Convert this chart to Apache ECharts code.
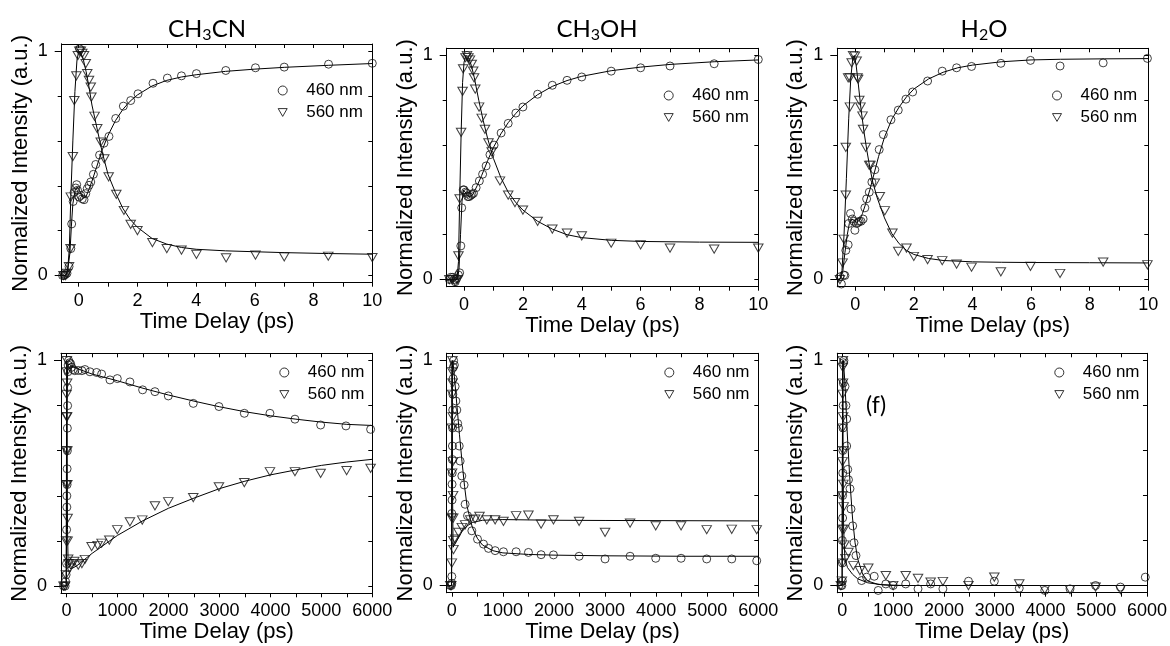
<!DOCTYPE html>
<html><head><meta charset="utf-8">
<script src="https://cdn.jsdelivr.net/npm/echarts@6/dist/echarts.min.js"></script>
<style>html,body{margin:0;padding:0;background:#fff}#c{width:1170px;height:646px}</style>
</head><body><div id="c"></div><script>
// ---------- tick / label arrays ----------
const SHORT_TICKS = [0,1,2,3,4,5,6,7,8,9,10];
const SHORT_LABELS = [0,2,4,6,8,10];
const LONG_TICKS = [0,500,1000,1500,2000,2500,3000,3500,4000,4500,5000,5500,6000];
const LONG_LABELS = [0,1000,2000,3000,4000,5000,6000];
const Y_LABELS = [0,1];
const Y_MINOR = [0.2,0.4,0.6,0.8];
const Y_ALL = [0,0.2,0.4,0.6,0.8,1];
const SERIES_NAMES = ['460 nm','560 nm'];
const TITLES = ['{n|CH}{s|3}{n|CN}','{n|CH}{s|3}{n|OH}','{n|H}{s|2}{n|O}'];
const X_NAME = 'Time Delay (ps)';
const Y_NAME = 'Normalized Intensity (a.u.)';
const PANEL_TAG = '(f)';

// ---------- data: CH3CN short ----------
const ch3cnS_460 = [[-0.55,0],[-0.5,0.0],[-0.45,0.005],[-0.4,0.01],[-0.33,0.04],[-0.27,0.12],[-0.24,0.23],[-0.19,0.33],[-0.16,0.37],[-0.1,0.39],[-0.07,0.405],[-0.04,0.38],[0.03,1.01],[0.01,0.35],[0.07,0.357],[0.12,0.342],[0.18,0.338],[0.24,0.365],[0.29,0.387],[0.35,0.402],[0.41,0.417],[0.5,0.451],[0.58,0.495],[0.71,0.537],[0.86,0.59],[1.03,0.62],[1.26,0.7],[1.52,0.755],[1.77,0.78],[2.02,0.81],[2.53,0.857],[3.02,0.88],[3.5,0.89],[4.01,0.9],[5.01,0.914],[6.02,0.926],[7.0,0.929],[8.51,0.942],[10,0.946]];
const ch3cnS_560 = [[-0.52,0.0],[-0.45,0.0],[-0.4,0.01],[-0.33,0.04],[-0.28,0.12],[-0.27,0.35],[-0.2,0.53],[-0.15,0.78],[-0.08,0.89],[-0.03,0.98],[0.02,1.0],[0.07,1.0],[0.12,0.99],[0.18,0.98],[0.24,0.945],[0.29,0.9],[0.35,0.87],[0.41,0.84],[0.43,0.795],[0.54,0.71],[0.63,0.655],[0.75,0.595],[0.87,0.52],[1.02,0.44],[1.28,0.362],[1.54,0.29],[1.77,0.228],[2.0,0.2],[2.51,0.147],[3.0,0.12],[3.5,0.113],[4.01,0.094],[5.02,0.079],[6.02,0.091],[7.0,0.083],[8.5,0.086],[10,0.08]];
const ch3cnS_fit460 = [[-0.58,0],[-0.45,0.0],[-0.38,0.02],[-0.3,0.1],[-0.25,0.22],[-0.2,0.32],[-0.12,0.38],[-0.05,0.395],[0.02,0.38],[0.1,0.355],[0.18,0.345],[0.26,0.355],[0.35,0.385],[0.45,0.42],[0.6,0.48],[0.8,0.56],[1.0,0.625],[1.25,0.69],[1.5,0.74],[1.75,0.777],[2.0,0.805],[2.5,0.845],[3.0,0.87],[3.5,0.885],[4.0,0.895],[5.0,0.91],[6.0,0.92],[7.0,0.928],[8.5,0.937],[10,0.945]];
const ch3cnS_fit560 = [[-0.58,0],[-0.45,0.0],[-0.38,0.02],[-0.32,0.12],[-0.27,0.35],[-0.2,0.6],[-0.13,0.82],[-0.06,0.96],[0.0,1.0],[0.08,0.99],[0.16,0.96],[0.25,0.91],[0.35,0.84],[0.45,0.76],[0.55,0.7],[0.65,0.64],[0.8,0.55],[1.0,0.45],[1.25,0.37],[1.5,0.3],[1.75,0.25],[2.0,0.215],[2.5,0.165],[3.0,0.14],[3.5,0.125],[4.0,0.117],[5.0,0.11],[6.0,0.106],[7.0,0.102],[8.5,0.098],[10,0.095]];

// ---------- data: CH3OH short ----------
const ch3ohS_460 = [[-0.5,0.0],[-0.45,0.01],[-0.38,0.01],[-0.33,0.0],[-0.3,-0.01],[-0.25,0.005],[-0.19,0.02],[-0.15,0.03],[-0.11,0.15],[-0.08,0.32],[-0.03,0.4],[0.0,0.4],[0.05,0.39],[0.09,0.385],[0.1,1.0],[0.13,0.37],[0.17,0.37],[0.22,0.375],[0.27,0.38],[0.32,0.385],[0.41,0.41],[0.52,0.44],[0.63,0.47],[0.75,0.507],[0.88,0.557],[1.02,0.6],[1.26,0.654],[1.5,0.697],[1.76,0.743],[2.0,0.77],[2.5,0.827],[3.0,0.867],[3.5,0.889],[4.0,0.904],[5.0,0.93],[6.0,0.945],[7.0,0.953],[8.5,0.963],[10,0.982]];
const ch3ohS_560 = [[-0.5,0.0],[-0.4,0.0],[-0.3,-0.01],[-0.22,0.0],[-0.19,0.106],[-0.15,0.36],[-0.1,0.657],[-0.05,0.84],[-0.03,0.94],[0.05,0.99],[0.1,1.0],[0.15,0.99],[0.2,0.98],[0.26,0.96],[0.31,0.93],[0.34,0.9],[0.38,0.85],[0.51,0.77],[0.6,0.72],[0.71,0.67],[0.83,0.61],[0.94,0.57],[1.22,0.44],[1.5,0.377],[1.73,0.343],[2.0,0.31],[2.5,0.26],[3.0,0.225],[3.5,0.207],[4.0,0.195],[5.0,0.162],[6.0,0.155],[7.0,0.14],[8.5,0.136],[10,0.14]];
const ch3ohS_fit460 = [[-0.59,0],[-0.22,0.0],[-0.17,0.05],[-0.12,0.2],[-0.07,0.35],[-0.02,0.4],[0.04,0.395],[0.12,0.375],[0.2,0.37],[0.3,0.38],[0.45,0.42],[0.6,0.465],[0.8,0.53],[1.0,0.59],[1.25,0.65],[1.5,0.7],[1.75,0.74],[2.0,0.775],[2.5,0.825],[3.0,0.862],[3.5,0.888],[4.0,0.907],[5.0,0.932],[6.0,0.948],[7.0,0.96],[8.5,0.972],[10,0.98]];
const ch3ohS_fit560 = [[-0.59,0],[-0.24,0.0],[-0.19,0.08],[-0.15,0.35],[-0.1,0.65],[-0.05,0.88],[0.0,0.97],[0.06,1.0],[0.15,0.99],[0.25,0.955],[0.35,0.9],[0.5,0.8],[0.65,0.71],[0.8,0.63],[1.0,0.54],[1.25,0.455],[1.5,0.39],[1.75,0.345],[2.0,0.31],[2.5,0.26],[3.0,0.225],[3.5,0.2],[4.0,0.187],[5.0,0.175],[6.0,0.17],[8.0,0.167],[10,0.166]];

// ---------- data: H2O short ----------
const h2oS_460 = [[-0.52,0.012],[-0.47,-0.02],[-0.39,0.02],[-0.35,0.018],[-0.32,0.13],[-0.24,0.155],[-0.22,0.25],[-0.16,0.295],[-0.1,0.27],[-0.05,0.26],[-0.01,0.22],[0.05,0.25],[0.1,0.255],[0.14,0.26],[0.2,0.26],[0.27,0.27],[0.33,0.32],[0.39,0.36],[0.48,0.39],[0.57,0.435],[0.67,0.49],[0.82,0.58],[0.96,0.647],[1.22,0.713],[1.47,0.756],[1.73,0.805],[1.96,0.837],[2.47,0.886],[2.97,0.93],[3.46,0.945],[3.97,0.951],[4.97,0.965],[5.98,0.978],[6.99,0.953],[8.46,0.967],[9.97,0.987]];
const h2oS_560 = [[-0.52,0.0],[-0.43,0.074],[-0.39,0.18],[-0.32,0.377],[-0.32,0.59],[-0.24,0.9],[-0.18,0.77],[-0.18,0.9],[-0.12,0.967],[-0.07,1.0],[-0.01,0.997],[0.05,0.975],[0.08,0.9],[0.1,0.894],[0.14,0.8],[0.18,0.77],[0.25,0.73],[0.27,0.67],[0.36,0.59],[0.48,0.51],[0.52,0.51],[0.67,0.43],[0.84,0.37],[1.01,0.307],[1.27,0.207],[1.47,0.126],[1.75,0.14],[2.0,0.103],[2.47,0.089],[2.97,0.084],[3.46,0.069],[3.97,0.055],[4.97,0.034],[5.98,0.059],[6.99,0.027],[8.46,0.078],[9.97,0.066]];
const h2oS_fit460 = [[-0.61,0],[-0.5,0.005],[-0.42,0.04],[-0.35,0.12],[-0.27,0.2],[-0.2,0.25],[-0.12,0.27],[-0.04,0.265],[0.05,0.255],[0.15,0.265],[0.25,0.295],[0.35,0.335],[0.5,0.4],[0.65,0.475],[0.8,0.55],[1.0,0.635],[1.25,0.715],[1.5,0.77],[1.75,0.815],[2.0,0.85],[2.5,0.895],[3.0,0.925],[3.5,0.945],[4.0,0.957],[5.0,0.972],[6.0,0.98],[7.0,0.983],[8.5,0.985],[10,0.986]];
const h2oS_fit560 = [[-0.61,0],[-0.52,0.0],[-0.45,0.04],[-0.38,0.2],[-0.3,0.45],[-0.22,0.72],[-0.15,0.9],[-0.08,0.99],[-0.03,1.0],[0.03,0.96],[0.1,0.88],[0.2,0.76],[0.3,0.66],[0.4,0.575],[0.5,0.5],[0.6,0.435],[0.75,0.365],[1.0,0.275],[1.25,0.205],[1.5,0.16],[1.75,0.13],[2.0,0.112],[2.5,0.094],[3.0,0.085],[4.0,0.079],[5.0,0.077],[6.0,0.076],[8.0,0.075],[10,0.074]];

// ---------- data: CH3CN long ----------
const ch3cnL_460 = [[-60,0.0],[-30,0.0],[-20,0.02],[-10,0.05],[0,0.1],[0,0.25],[5,0.35],[5,0.4],[10,0.45],[10,0.52],[15,0.6],[15,0.7],[20,0.8],[20,0.88],[25,0.95],[30,0.98],[40,1.0],[60,0.99],[80,0.985],[100,0.97],[130,0.96],[160,0.955],[229,0.956],[300,0.955],[360,0.96],[458,0.95],[589,0.947],[687,0.94],[851,0.914],[995,0.92],[1243,0.905],[1492,0.87],[1734,0.862],[1996,0.843],[2486,0.81],[2990,0.796],[3488,0.766],[3991,0.766],[4482,0.74],[4986,0.714],[5483,0.71],[5967,0.695]];
const ch3cnL_560 = [[-60,0.0],[-30,0.0],[-15,0.05],[-10,0.2],[-5,0.45],[-5,0.6],[0,0.75],[0,0.85],[5,0.95],[5,1.0],[10,0.9],[10,0.75],[15,0.6],[15,0.45],[20,0.3],[20,0.2],[30,0.12],[40,0.1],[60,0.08],[100,0.1],[150,0.11],[229,0.093],[300,0.1],[360,0.118],[491,0.175],[609,0.18],[687,0.19],[838,0.204],[995,0.25],[1243,0.285],[1485,0.293],[1734,0.356],[1996,0.374],[2486,0.392],[2990,0.44],[3488,0.459],[3991,0.507],[4482,0.507],[4986,0.5],[5496,0.512],[5967,0.522]];
const ch3cnL_fit460 = [[-110,0],[-5,0.0],[0,0.3],[8,0.8],[20,0.97],[40,0.985],[100,0.975],[200,0.965],[500,0.94],[1000,0.91],[1500,0.877],[2000,0.847],[2500,0.82],[3000,0.795],[3500,0.773],[4000,0.755],[4500,0.74],[5000,0.727],[5500,0.717],[6000,0.712]];
const ch3cnL_fit560 = [[-110,0],[-10,0.0],[-3,0.5],[3,1.0],[10,0.6],[18,0.25],[30,0.1],[80,0.075],[200,0.09],[500,0.145],[1000,0.225],[1500,0.29],[2000,0.345],[2500,0.39],[3000,0.432],[3500,0.465],[4000,0.493],[4500,0.515],[5000,0.535],[5500,0.55],[6000,0.562]];

// ---------- data: CH3OH long ----------
const ch3ohL_460 = [[-30,0.0],[-10,0.0],[0,0.01],[0,0.04],[0,0.32],[5,0.38],[5,0.45],[8,0.5],[10,0.56],[12,0.62],[15,0.7],[18,0.78],[20,0.85],[25,0.92],[30,0.97],[35,1.0],[50,0.98],[65,0.885],[80,0.82],[98,0.78],[115,0.72],[130,0.7],[145,0.62],[163,0.553],[196,0.487],[241,0.447],[261,0.361],[307,0.31],[392,0.243],[503,0.206],[620,0.184],[718,0.165],[848,0.155],[1011,0.15],[1259,0.15],[1500,0.147],[1748,0.137],[1990,0.136],[2492,0.13],[3000,0.118],[3490,0.13],[3992,0.121],[4488,0.121],[4990,0.118],[5480,0.118],[5969,0.11]];
const ch3ohL_560 = [[-30,0.0],[-10,0.0],[0,0.1],[0,0.3],[5,0.5],[5,0.7],[8,0.85],[10,0.95],[12,1.0],[15,0.9],[18,0.75],[20,0.55],[25,0.4],[28,0.3],[30,0.2],[33,0.16],[65,0.206],[130,0.236],[196,0.258],[261,0.27],[359,0.292],[457,0.295],[542,0.307],[685,0.292],[848,0.292],[1011,0.285],[1259,0.31],[1500,0.313],[1748,0.273],[1990,0.292],[2492,0.285],[3000,0.236],[3490,0.277],[3992,0.265],[4488,0.265],[4990,0.248],[5480,0.25],[5969,0.248]];
const ch3ohL_fit460 = [[-100,0],[-5,0.0],[0,0.5],[8,0.95],[20,1.0],[50,0.93],[100,0.8],[150,0.67],[200,0.55],[250,0.44],[300,0.35],[400,0.26],[500,0.21],[600,0.18],[800,0.155],[1000,0.145],[1500,0.138],[2000,0.135],[3000,0.132],[4500,0.13],[6000,0.13]];
const ch3ohL_fit560 = [[-100,0],[-5,0.0],[0,0.6],[6,1.0],[15,0.4],[25,0.17],[50,0.18],[100,0.2],[200,0.24],[300,0.265],[400,0.28],[600,0.29],[1000,0.293],[2000,0.29],[3000,0.289],[4500,0.288],[6000,0.287]];

// ---------- data: H2O long ----------
const h2oL_460 = [[-30,0.0],[-10,0.0],[0,0.02],[0,0.1],[0,0.2],[5,0.3],[5,0.4],[8,0.5],[10,0.6],[12,0.7],[15,0.8],[18,0.9],[20,0.99],[30,1.0],[52,0.885],[70,0.8],[85,0.74],[85,0.62],[105,0.516],[120,0.47],[150,0.43],[170,0.34],[203,0.265],[229,0.19],[268,0.133],[379,0.022],[477,0.037],[627,0.041],[706,-0.022],[856,0.007],[1000,0.0],[1248,0.007],[1490,-0.015],[1739,0.007],[1980,-0.015],[2484,0.019],[2993,0.019],[3484,-0.012],[3987,-0.022],[4484,-0.015],[4987,0.0],[5477,-0.007],[5967,0.037]];
const h2oL_560 = [[-30,0.0],[-10,0.02],[0,0.1],[0,0.25],[3,0.4],[3,0.55],[5,0.7],[5,0.85],[8,0.97],[10,1.0],[12,0.9],[15,0.75],[18,0.6],[20,0.45],[25,0.35],[30,0.25],[40,0.18],[60,0.12],[118,0.147],[216,0.088],[346,0.066],[510,0.077],[856,0.044],[1000,0.0],[1248,0.044],[1490,0.032],[1739,0.015],[1980,0.018],[2484,0.0],[2993,0.037],[3484,0.007],[3987,-0.018],[4484,-0.018],[4987,-0.007],[5477,-0.018]];
const h2oL_fit460 = [[-100,0],[-5,0.0],[0,0.5],[8,0.95],[20,1.0],[50,0.9],[100,0.66],[150,0.46],[200,0.3],[250,0.19],[300,0.12],[400,0.05],[500,0.02],[700,0.005],[1000,0.0],[6000,0.0]];
const h2oL_fit560 = [[-100,0],[-5,0.0],[0,0.6],[8,1.0],[15,0.55],[25,0.25],[50,0.12],[100,0.08],[200,0.05],[300,0.03],[500,0.012],[800,0.003],[1200,0.0],[6000,0.0]];

// ---------- layout / styling ----------
const FONT = 'Liberation Sans, Arial, sans-serif';
const TITLE_FONT = 'Lato, "Open Sans", sans-serif';
const TRI = 'path://M0,0L10,0L5,8.66Z';
const panels = [
  {g:[61.7,44,310.6,238.7], xmin:-0.58, xmax:10, xt:SHORT_TICKS, xl:SHORT_LABELS, a:ch3cnS_460, b:ch3cnS_560, fa:ch3cnS_fit460, fb:ch3cnS_fit560, leg:[277.7,82]},
  {g:[446.7,48.3,311.6,238.4], xmin:-0.59, xmax:10, xt:SHORT_TICKS, xl:SHORT_LABELS, a:ch3ohS_460, b:ch3ohS_560, fa:ch3ohS_fit460, fb:ch3ohS_fit560, leg:[663.7,87]},
  {g:[837.3,48.3,311,238.4], xmin:-0.61, xmax:10, xt:SHORT_TICKS, xl:SHORT_LABELS, a:h2oS_460, b:h2oS_560, fa:h2oS_fit460, fb:h2oS_fit560, leg:[1052,87]},
  {g:[61,353.3,311.3,240], xmin:-110, xmax:6000, xt:LONG_TICKS, xl:LONG_LABELS, a:ch3cnL_460, b:ch3cnL_560, fa:ch3cnL_fit460, fb:ch3cnL_fit560, leg:[279.3,364]},
  {g:[446.7,353.3,311.6,239.4], xmin:-100, xmax:6000, xt:LONG_TICKS, xl:LONG_LABELS, a:ch3ohL_460, b:ch3ohL_560, fa:ch3ohL_fit460, fb:ch3ohL_fit560, leg:[664.3,364]},
  {g:[837.3,353.3,311,239.4], xmin:-100, xmax:6000, xt:LONG_TICKS, xl:LONG_LABELS, a:h2oL_460, b:h2oL_560, fa:h2oL_fit460, fb:h2oL_fit560, leg:[1054.3,364]}
];
const titlePos = [[207,30],[597,30],[984,30]];
const YMIN = -0.032, YMAX = 1.032;
const line = {color:'#000', width:1};
const plain = v => String(v);

const option = {animation:false, backgroundColor:'#fff', grid:[], xAxis:[], yAxis:[], series:[], legend:[], graphic:[]};

panels.forEach((p,i)=>{
  option.grid.push({left:p.g[0], top:p.g[1], width:p.g[2], height:p.g[3]});
  const xb = {type:'value', gridIndex:i, min:p.xmin, max:p.xmax, splitLine:{show:false}, axisLine:{show:true, onZero:false, lineStyle:line}};
  option.xAxis.push(Object.assign({}, xb, {position:'bottom', name:X_NAME, nameLocation:'middle', nameGap:27,
    nameTextStyle:{fontFamily:FONT, fontSize:22, color:'#000'},
    axisTick:{show:true, inside:false, length:4, customValues:p.xt, lineStyle:line},
    axisLabel:{show:true, customValues:p.xl, formatter:plain, margin:9, fontFamily:FONT, fontSize:18, color:'#000'}}));
  option.xAxis.push(Object.assign({}, xb, {position:'top',
    axisTick:{show:true, inside:true, length:4, customValues:p.xt, lineStyle:line}, axisLabel:{show:false}}));
  const yb = {type:'value', gridIndex:i, min:YMIN, max:YMAX, splitLine:{show:false}, axisLine:{show:true, onZero:false, lineStyle:line}};
  option.yAxis.push(Object.assign({}, yb, {position:'left', name:Y_NAME, nameLocation:'middle', nameGap:30,
    nameTextStyle:{fontFamily:FONT, fontSize:22, color:'#000'},
    axisTick:{show:true, inside:false, length:7, customValues:Y_LABELS, lineStyle:line},
    axisLabel:{show:true, customValues:Y_LABELS, formatter:plain, margin:14, fontFamily:FONT, fontSize:18, color:'#000'}}));
  option.yAxis.push(Object.assign({}, yb, {position:'left',
    axisTick:{show:true, inside:false, length:4, customValues:Y_MINOR, lineStyle:line}, axisLabel:{show:false}}));
  option.yAxis.push(Object.assign({}, yb, {position:'right',
    axisTick:{show:true, inside:true, length:4, customValues:Y_ALL, lineStyle:line}, axisLabel:{show:false}}));

  const xi = 2*i, yi = 3*i;
  option.series.push({type:'line', name:'fit 460', xAxisIndex:xi, yAxisIndex:yi, data:p.fa, showSymbol:false, symbol:'none', lineStyle:{color:'#000', width:1}, z:2, silent:true});
  option.series.push({type:'line', name:'fit 560', xAxisIndex:xi, yAxisIndex:yi, data:p.fb, showSymbol:false, symbol:'none', lineStyle:{color:'#000', width:1}, z:2, silent:true});
  option.series.push({type:'scatter', name:SERIES_NAMES[0], xAxisIndex:xi, yAxisIndex:yi, data:p.a, symbol:'circle', symbolSize:8,
    itemStyle:{color:'rgba(0,0,0,0)', borderColor:'#111', borderWidth:1}, z:3});
  option.series.push({type:'scatter', name:SERIES_NAMES[1], xAxisIndex:xi, yAxisIndex:yi, data:p.b, symbol:TRI, symbolSize:[9.5,8.2],
    itemStyle:{color:'rgba(0,0,0,0)', borderColor:'#111', borderWidth:1}, z:3});

  option.legend.push({orient:'vertical', left:p.leg[0], top:p.leg[1], padding:0, itemGap:5, itemWidth:9, itemHeight:9, selectedMode:false,
    data:[{name:SERIES_NAMES[0], icon:'circle'},{name:SERIES_NAMES[1], icon:TRI}],
    itemStyle:{color:'rgba(0,0,0,0)', borderColor:'#000', borderWidth:1},
    textStyle:{fontFamily:FONT, fontSize:17, color:'#000', lineHeight:17, padding:[0,0,0,14]}});
});

TITLES.forEach((t,i)=>{
  option.graphic.push({type:'text', x:titlePos[i][0], y:titlePos[i][1], z:10,
    style:{text:t, align:'center', verticalAlign:'middle', fill:'#000',
      rich:{n:{fontFamily:TITLE_FONT, fontSize:24, lineHeight:24, verticalAlign:'top', fill:'#000'},
            s:{fontFamily:TITLE_FONT, fontSize:16, lineHeight:26, verticalAlign:'bottom', fill:'#000'}}}});
});
option.graphic.push({type:'text', x:876, y:406, z:10, style:{text:PANEL_TAG, align:'center', verticalAlign:'middle', fill:'#000', font:'23px ' + TITLE_FONT}});

const chart = echarts.init(document.getElementById('c'), null, {renderer:'canvas'});
chart.setOption(option);
</script></body></html>
